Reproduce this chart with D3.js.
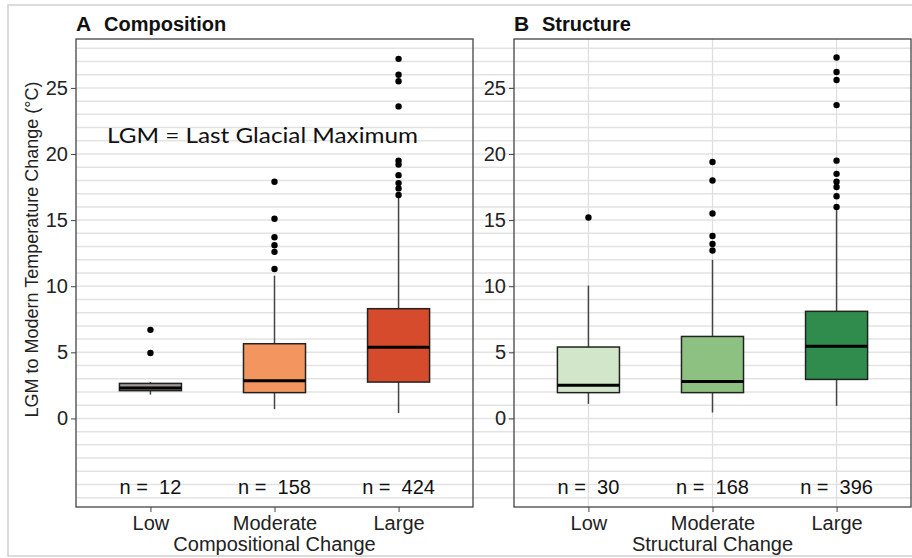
<!DOCTYPE html>
<html lang="en">
<head>
  <meta charset="UTF-8">
  <title>LGM temperature change boxplots</title>
  <script src="https://d3js.org/d3.v7.min.js"></script>
  <style>
    body {
      margin: 0;
      padding: 0;
      background-color: #fff;
    }
    svg {
      display: block;
      font-family: "Liberation Sans", Arial, sans-serif;
    }
  </style>
</head>
<body>
  <svg id="canvas"></svg>
  <script>
const width = 912;
const height = 558;

// data
const categories = ["Low", "Moderate", "Large"];
const yTicks = [0, 5, 10, 15, 20, 25];

const compQ1 = [2.1, 1.95, 2.75];
const compMedian = [2.3, 2.85, 5.38];
const compQ3 = [2.65, 5.65, 8.3];
const compWhiskerLow = [1.8, 0.7, 0.4];
const compWhiskerHigh = [2.75, 10.8, 16.7];
const compOutliers = [
  [4.95, 6.7],
  [11.3, 12.6, 13.1, 13.7, 15.1, 17.9],
  [16.9, 17.4, 17.8, 18.4, 19.2, 19.5, 23.6, 25.5, 26.0, 27.2]
];
const compN = [12, 158, 424];
const compColors = ["#9b9592", "#f2955e", "#d64b2c"];

const structQ1 = [1.95, 1.95, 2.95];
const structMedian = [2.5, 2.8, 5.45];
const structQ3 = [5.4, 6.2, 8.1];
const structWhiskerLow = [1.1, 0.45, 0.95];
const structWhiskerHigh = [10.05, 12.0, 15.8];
const structOutliers = [
  [15.2],
  [12.7, 13.2, 13.8, 15.5, 18.0, 19.4],
  [16.0, 16.8, 17.5, 17.9, 18.5, 19.5, 23.7, 25.6, 26.2, 27.3]
];
const structN = [30, 168, 396];
const structColors = ["#d2e7c9", "#8dc181", "#2f8c4c"];

const svg = d3.select("#canvas")
  .attr("width", width)
  .attr("height", height);

// faint outer frame of the figure
svg.append("rect")
  .attr("x", 8).attr("y", 5)
  .attr("width", width - 4).attr("height", 551)
  .attr("fill", "none")
  .attr("stroke", "#d0d0d0")
  .attr("stroke-width", 1.5);

const plotTop = 39;
const plotBottom = 507;

const y = d3.scaleLinear()
  .domain([-6.7, 28.7])
  .range([plotBottom, plotTop]);

// horizontal background lines every degree, running across both panels
svg.append("g")
  .selectAll("line")
  .data(d3.range(-6, 29))
  .join("line")
  .attr("x1", 76)
  .attr("x2", width)
  .attr("y1", d => y(d))
  .attr("y2", d => y(d))
  .attr("stroke", "#e3e3e3")
  .attr("stroke-width", 1.5);

svg.append("text")
  .attr("x", 107)
  .attr("y", 143)
  .attr("font-family", "Lato, 'Open Sans', sans-serif")
  .attr("font-size", 21)
  .attr("textLength", 311)
  .attr("lengthAdjust", "spacingAndGlyphs")
  .attr("fill", "#111")
  .text("LGM = Last Glacial Maximum");

function drawPanel(opts) {
  const g = svg.append("g");

  const x = d3.scalePoint()
    .domain(categories)
    .range([opts.x0, opts.x1])
    .padding(0.6);
  const boxW = x.step() * 0.5;

  if (opts.vgrid) {
    g.selectAll(".vgrid")
      .data(categories)
      .join("line")
      .attr("x1", d => x(d)).attr("x2", d => x(d))
      .attr("y1", plotTop).attr("y2", plotBottom)
      .attr("stroke", "#dedede")
      .attr("stroke-width", 1.2);
  }

  const rows = categories.map((c, i) => ({
    cat: c,
    q1: opts.q1[i], med: opts.median[i], q3: opts.q3[i],
    lo: opts.lo[i], hi: opts.hi[i],
    out: opts.outliers[i], n: opts.n[i], color: opts.colors[i]
  }));

  const box = g.selectAll(".box")
    .data(rows)
    .join("g");

  box.append("line")
    .attr("x1", d => x(d.cat)).attr("x2", d => x(d.cat))
    .attr("y1", d => y(d.hi)).attr("y2", d => y(d.q3))
    .attr("stroke", "#444").attr("stroke-width", 1.5);
  box.append("line")
    .attr("x1", d => x(d.cat)).attr("x2", d => x(d.cat))
    .attr("y1", d => y(d.q1)).attr("y2", d => y(d.lo))
    .attr("stroke", "#444").attr("stroke-width", 1.5);

  box.append("rect")
    .attr("x", d => x(d.cat) - boxW / 2)
    .attr("width", boxW)
    .attr("y", d => y(d.q3))
    .attr("height", d => y(d.q1) - y(d.q3))
    .attr("fill", d => d.color)
    .attr("stroke", "#222")
    .attr("stroke-width", 1.5);

  box.append("line")
    .attr("x1", d => x(d.cat) - boxW / 2).attr("x2", d => x(d.cat) + boxW / 2)
    .attr("y1", d => y(d.med)).attr("y2", d => y(d.med))
    .attr("stroke", "#000").attr("stroke-width", 3);

  box.selectAll("circle")
    .data(d => d.out.map(v => ({ cat: d.cat, v })))
    .join("circle")
    .attr("cx", d => x(d.cat))
    .attr("cy", d => y(d.v))
    .attr("r", 3.2)
    .attr("fill", "#000");

  box.append("text")
    .attr("x", d => x(d.cat))
    .attr("y", y(-5.7))
    .attr("text-anchor", "middle")
    .attr("font-size", 20)
    .attr("fill", "#111")
    .attr("xml:space", "preserve")
    .text(d => "n =  " + d.n);

  // panel border
  g.append("rect")
    .attr("x", opts.x0).attr("y", plotTop)
    .attr("width", opts.x1 - opts.x0).attr("height", plotBottom - plotTop)
    .attr("fill", "none")
    .attr("stroke", "#444")
    .attr("stroke-width", 1.3);

  // y axis
  const yAxis = g.append("g")
    .attr("transform", `translate(${opts.x0},0)`)
    .call(d3.axisLeft(y).tickValues(yTicks).tickSize(5).tickPadding(3));
  yAxis.select(".domain").remove();
  yAxis.selectAll("line").attr("stroke", "#444");
  yAxis.selectAll("text")
    .attr("font-size", 20)
    .attr("font-family", "'Liberation Sans', Arial, sans-serif")
    .attr("fill", "#222");

  // x axis
  const xAxis = g.append("g")
    .attr("transform", `translate(0,${plotBottom})`)
    .call(d3.axisBottom(x).tickSize(5).tickPadding(4));
  xAxis.select(".domain").remove();
  xAxis.selectAll("line").attr("stroke", "#444");
  xAxis.selectAll("text")
    .attr("font-size", 20)
    .attr("font-family", "'Liberation Sans', Arial, sans-serif")
    .attr("fill", "#222");

  g.append("text")
    .attr("x", (opts.x0 + opts.x1) / 2)
    .attr("y", 551)
    .attr("text-anchor", "middle")
    .attr("font-size", 20)
    .attr("fill", "#222")
    .text(opts.xTitle);

  // panel letter and title
  g.append("text")
    .attr("x", opts.x0)
    .attr("y", 31)
    .attr("font-size", 21)
    .attr("font-weight", "bold")
    .attr("fill", "#111")
    .text(opts.letter);
  g.append("text")
    .attr("x", opts.titleX)
    .attr("y", 31)
    .attr("font-size", 20)
    .attr("font-weight", "bold")
    .attr("fill", "#111")
    .text(opts.title);
}

drawPanel({
  x0: 76, x1: 473,
  q1: compQ1, median: compMedian, q3: compQ3,
  lo: compWhiskerLow, hi: compWhiskerHigh,
  outliers: compOutliers, n: compN, colors: compColors,
  xTitle: "Compositional Change",
  letter: "A", title: "Composition", titleX: 104,
  vgrid: false
});

drawPanel({
  x0: 514, x1: 911,
  q1: structQ1, median: structMedian, q3: structQ3,
  lo: structWhiskerLow, hi: structWhiskerHigh,
  outliers: structOutliers, n: structN, colors: structColors,
  xTitle: "Structural Change",
  letter: "B", title: "Structure", titleX: 542,
  vgrid: true
});

svg.append("text")
  .attr("transform", `translate(38,${(plotTop + 420) / 2 + 20}) rotate(-90)`)
  .attr("text-anchor", "middle")
  .attr("font-size", 18)
  .attr("fill", "#222")
  .text("LGM to Modern Temperature Change (°C)");
  </script>
</body>
</html>
